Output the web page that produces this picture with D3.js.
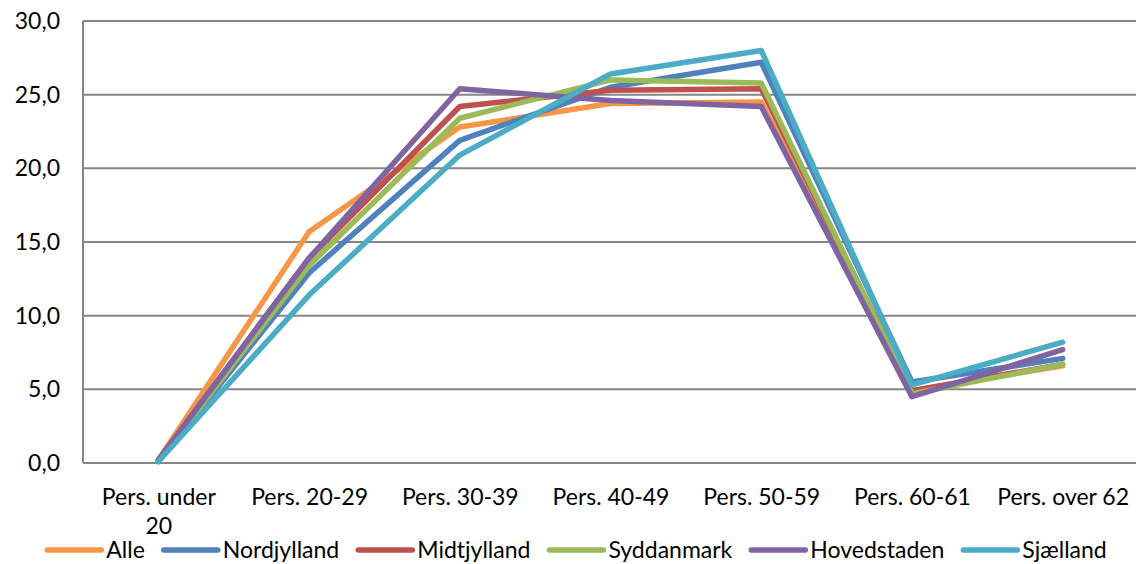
<!DOCTYPE html>
<html><head><meta charset="utf-8">
<script src="https://cdn.jsdelivr.net/npm/d3@7"></script>
<style>
html,body{margin:0;padding:0;background:#fff;}
svg{display:block;font-family:Lato,"Open Sans",sans-serif;}
</style></head>
<body>
<svg id="chart" width="1136" height="564"></svg>
<script>
const categories = ["Pers. under 20","Pers. 20-29","Pers. 30-39","Pers. 40-49","Pers. 50-59","Pers. 60-61","Pers. over 62"];
const tickLines = [["Pers. under","20"],["Pers. 20-29"],["Pers. 30-39"],["Pers. 40-49"],["Pers. 50-59"],["Pers. 60-61"],["Pers. over 62"]];
const seriesNames = ["Alle","Nordjylland","Midtjylland","Syddanmark","Hovedstaden","Sjælland"];
const alle        = [0.2, 15.7, 22.8, 24.4, 24.5, 4.9, 6.6];
const nordjylland = [0.1, 12.9, 21.9, 25.5, 27.2, 5.5, 7.1];
const midtjylland = [0.2, 13.9, 24.2, 25.3, 25.4, 4.9, 6.7];
const syddanmark  = [0.1, 13.4, 23.4, 26.0, 25.8, 4.7, 6.7];
const hovedstaden = [0.2, 13.9, 25.4, 24.6, 24.2, 4.5, 7.7];
const sjaelland   = [0.1, 11.4, 20.9, 26.4, 28.0, 5.3, 8.2];
const yTicks = [0, 5, 10, 15, 20, 25, 30];
const colors = ["#F79646","#4F81BD","#C0504D","#9BBB59","#8064A2","#4BACC6"];

const seriesValues = [alle, nordjylland, midtjylland, syddanmark, hovedstaden, sjaelland];
const series = seriesNames.map((n,i)=>({name:n, values:seriesValues[i], color:colors[i]}));

const svg = d3.select("#chart");
const m = {left:83, right:-2, top:21, bottom:101};
const W = 1136, H = 564;
const x = d3.scalePoint().domain(categories).range([m.left, W - m.right]).padding(0.5);
const y = d3.scaleLinear().domain([0,30]).range([H - m.bottom, m.top]);
const fmt = v => d3.format(".1f")(v).replace(".", ",");
const FS = 23;

// gridlines
svg.append("g").selectAll("line").data(yTicks).join("line")
  .attr("x1", m.left).attr("x2", W).attr("y1", d=>y(d)).attr("y2", d=>y(d))
  .attr("stroke", "#868686").attr("stroke-width", 2);
// left axis line
svg.append("line").attr("x1", m.left).attr("x2", m.left).attr("y1", y(30)).attr("y2", y(0))
  .attr("stroke", "#868686").attr("stroke-width", 2);

// y axis labels
const yAxis = svg.append("g").attr("transform", `translate(${m.left},0)`)
  .call(d3.axisLeft(y).tickValues(yTicks).tickFormat(fmt).tickSize(0).tickPadding(23));
yAxis.select(".domain").remove();
yAxis.selectAll("text").attr("font-size", FS).attr("font-family", "Lato").attr("fill", "#000");

// x axis labels
const xAxis = svg.append("g").attr("transform", `translate(0,${y(0)})`)
  .call(d3.axisBottom(x).tickSize(0).tickFormat(()=>""));
xAxis.select(".domain").remove();
xAxis.selectAll(".tick").each(function(d,i){
  const t = d3.select(this).select("text").text(null)
    .attr("font-size", FS).attr("font-family","Lato").attr("fill","#000").attr("y", 0).attr("dy", null);
  tickLines[i].forEach((ln,j)=>{
    t.append("tspan").attr("x", 0).attr("y", 42 + j*29).text(ln);
  });
});

// lines
const line = d3.line().x((d,i)=>x(categories[i])).y(d=>y(d));
svg.append("g").selectAll("path").data(series).join("path")
  .attr("d", d=>line(d.values)).attr("fill","none").attr("stroke", d=>d.color)
  .attr("stroke-width", 5.5).attr("stroke-linejoin","round").attr("stroke-linecap","round");

// legend
const lg = svg.append("g");
const items = lg.selectAll("g").data(series).join("g");
items.append("line").attr("x1", 0).attr("x2", 54).attr("y1", 0).attr("y2", 0)
  .attr("stroke", d=>d.color).attr("stroke-width", 5.5).attr("stroke-linecap","round");
items.append("text").attr("x", 59).attr("y", 8).attr("font-size", FS).attr("font-family","Lato")
  .attr("fill","#000").text(d=>d.name);
let pos = 0; const offs = [];
const GAP = 19;
items.each(function(){
  offs.push(pos);
  const tw = d3.select(this).select("text").node().getComputedTextLength();
  pos += 59 + tw + GAP;
});
const total = pos - GAP;
const startX = 577 - total/2;
items.attr("transform", (d,i)=>`translate(${startX + offs[i]},550)`);
</script>
</body></html>
